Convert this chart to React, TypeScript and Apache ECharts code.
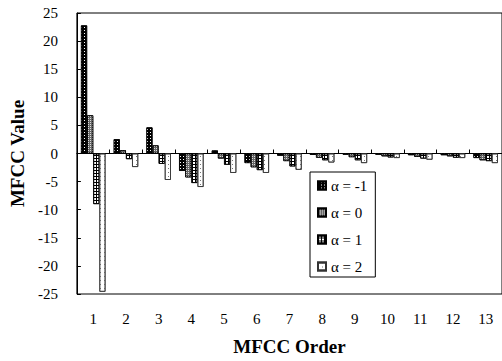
import React, { useEffect, useRef } from "react";
import * as echarts from "echarts";

const categories = ["1", "2", "3", "4", "5", "6", "7", "8", "9", "10", "11", "12", "13"];
const seriesNames = ["α = -1", "α = 0", "α = 1", "α = 2"];
const alphaM1 = [22.8, 2.55, 4.65, -3.1, 0.55, -1.7, -0.4, -0.25, -0.2, -0.2, -0.3, -0.3, -0.8];
const alpha0 = [6.8, 0.6, 1.45, -4.25, -0.9, -2.45, -1.35, -0.75, -0.65, -0.5, -0.6, -0.5, -1.2];
const alpha1 = [-9.0, -1.0, -1.85, -5.25, -2.0, -2.95, -2.3, -1.2, -1.2, -0.7, -0.9, -0.75, -1.35];
const alpha2 = [-24.6, -2.4, -4.7, -5.95, -3.45, -3.45, -2.9, -1.6, -1.7, -0.8, -1.1, -0.8, -1.7];
const yTicks = { min: -25, max: 25, interval: 5 };

const FONT = "'Liberation Serif', 'Times New Roman', serif";

export default function App() {
  const ref = useRef<HTMLDivElement>(null);
  useEffect(() => {
    document.body.style.margin = "0";
    const chart = echarts.init(ref.current!, null, { renderer: "svg" });
    const decals: any[] = [
      { symbol: "rect", symbolSize: 1, color: "#ffffff", backgroundColor: "#000000", dashArrayX: [1, 2], dashArrayY: [1, 2] },
      { symbol: "rect", symbolSize: 1, color: "#dddddd", backgroundColor: "#666666", dashArrayX: [1, 1], dashArrayY: [1, 1] },
      { symbol: "rect", symbolSize: 1, color: "#000000", backgroundColor: "#ffffff", dashArrayX: [[3, 0], [1, 2], [1, 2]], dashArrayY: [1, 0] },
      { symbol: "rect", symbolSize: 1, color: "#777777", backgroundColor: "#ffffff", dashArrayX: [1, 3], dashArrayY: [1, 3] },
    ];
    const fills = ["#000000", "#666666", "#ffffff", "#ffffff"];
    const datas = [alphaM1, alpha0, alpha1, alpha2];
    chart.setOption({
      animation: false,
      textStyle: { fontFamily: FONT, color: "#000" },
      grid: {
        left: 68,
        top: 13,
        width: 437,
        height: 284,
        show: true,
        borderColor: "#000",
        borderWidth: 1,
        backgroundColor: "transparent",
      },
      legend: {
        orient: "vertical",
        left: 310,
        top: 172,
        padding: [6, 8, 3, 7],
        itemWidth: 8,
        itemHeight: 8,
        itemGap: 12,
        itemTextGap: 4,
        icon: "rect",
        borderColor: "#000",
        borderWidth: 1,
        borderRadius: 0,
        backgroundColor: "#fff",
        textStyle: { fontFamily: FONT, fontSize: 15, color: "#000", lineHeight: 15 },
        data: seriesNames,
      },
      xAxis: [
        {
          type: "category",
          data: categories,
          position: "bottom",
          axisLine: { show: true, onZero: true, lineStyle: { color: "#000", width: 1 } },
          axisTick: { show: true, inside: true, length: 4, lineStyle: { color: "#000" } },
          axisLabel: { show: false },
          splitLine: { show: false },
        },
        {
          type: "category",
          data: categories,
          position: "bottom",
          axisLine: { show: false, onZero: false },
          axisTick: { show: false },
          axisLabel: { show: true, fontFamily: FONT, fontSize: 15, color: "#000", margin: 17 },
          name: "MFCC Order",
          nameLocation: "middle",
          nameGap: 43,
          nameTextStyle: { fontFamily: FONT, fontSize: 19, fontWeight: "bold", color: "#000" },
          splitLine: { show: false },
        },
      ],
      yAxis: {
        type: "value",
        min: yTicks.min,
        max: yTicks.max,
        interval: yTicks.interval,
        axisLine: { show: true, lineStyle: { color: "#000", width: 1 } },
        axisTick: { show: true, inside: true, length: 4, lineStyle: { color: "#000" } },
        axisLabel: { fontFamily: FONT, fontSize: 15, color: "#000", margin: 19 },
        splitLine: { show: false },
        name: "MFCC Value",
        nameLocation: "middle",
        nameRotate: 90,
        nameGap: 37,
        nameTextStyle: { fontFamily: FONT, fontSize: 19, fontWeight: "bold", color: "#000" },
      },
      series: seriesNames.map((name, i) => ({
        name,
        type: "bar",
        xAxisIndex: 0,
        data: datas[i],
        barCategoryGap: "25%",
        barGap: "0%",
        itemStyle: {
          color: fills[i],
          borderColor: i === 3 ? "#333" : "#000",
          borderWidth: 0.8,
          decal: decals[i],
        },
      })),
    });
    return () => chart.dispose();
  }, []);
  return <div ref={ref} style={{ width: 502, height: 361 }} />;
}
